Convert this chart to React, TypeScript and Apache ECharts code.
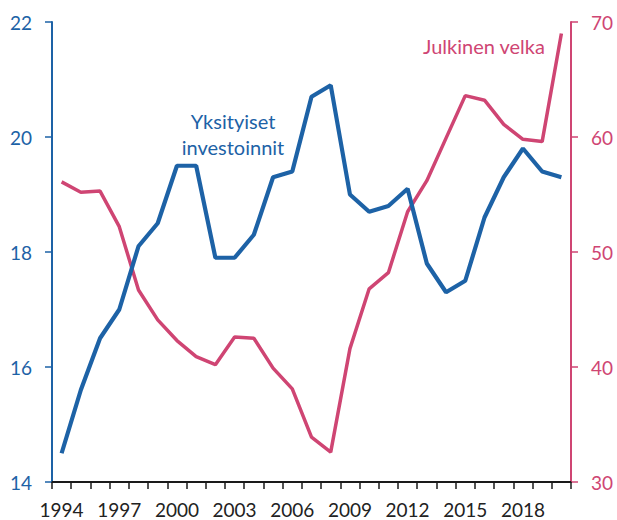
import React, { useEffect, useRef } from "react";
import * as echarts from "echarts";

const years: string[] = [
  "1994", "1995", "1996", "1997", "1998", "1999", "2000", "2001", "2002",
  "2003", "2004", "2005", "2006", "2007", "2008", "2009", "2010", "2011",
  "2012", "2013", "2014", "2015", "2016", "2017", "2018", "2019", "2020",
];

// Yksityiset investoinnit (left axis)
const privateInvestment: number[] = [
  14.5, 15.6, 16.5, 17.0, 18.1, 18.5, 19.5, 19.5, 17.9,
  17.9, 18.3, 19.3, 19.4, 20.7, 20.9, 19.0, 18.7, 18.8,
  19.1, 17.8, 17.3, 17.5, 18.6, 19.3, 19.8, 19.4, 19.3,
];

// Julkinen velka (right axis)
const publicDebt: number[] = [
  56.1, 55.2, 55.3, 52.2, 46.7, 44.1, 42.3, 40.9, 40.2,
  42.6, 42.5, 39.9, 38.1, 33.9, 32.6, 41.6, 46.8, 48.2,
  53.5, 56.2, 59.9, 63.6, 63.2, 61.1, 59.8, 59.6, 69.0,
];

const BLUE = "#1d62a6";
const PINK = "#cf4573";
const FONT = "Lato, 'Open Sans', sans-serif";

export default function App() {
  const ref = useRef<HTMLDivElement>(null);

  useEffect(() => {
    document.body.style.margin = "0";
    if (!ref.current) return;
    const chart = echarts.init(ref.current, undefined, { renderer: "svg" });
    chart.setOption({
      animation: false,
      textStyle: { fontFamily: FONT },
      grid: { left: 52, right: 46, top: 22, bottom: 38, containLabel: false },
      xAxis: {
        type: "category",
        data: years,
        boundaryGap: true,
        axisLine: { lineStyle: { color: "#1a1a1a", width: 2 } },
        axisTick: {
          show: true,
          interval: 0,
          length: 7,
          lineStyle: { color: "#1a1a1a", width: 1.5 },
        },
        axisLabel: {
          interval: 2,
          color: "#222222",
          fontSize: 19,
          lineHeight: 19,
          fontFamily: FONT,
          margin: 18,
        },
        splitLine: { show: false },
      },
      yAxis: [
        {
          type: "value",
          min: 14,
          max: 22,
          interval: 2,
          position: "left",
          axisLine: { show: true, lineStyle: { color: BLUE, width: 2 } },
          axisTick: { show: true, length: 7, lineStyle: { color: BLUE, width: 1.5 } },
          axisLabel: { color: BLUE, fontSize: 19, fontFamily: FONT, margin: 20 },
          splitLine: { show: false },
        },
        {
          type: "value",
          min: 30,
          max: 70,
          interval: 10,
          position: "right",
          axisLine: { show: true, lineStyle: { color: PINK, width: 2 } },
          axisTick: { show: true, length: 7, lineStyle: { color: PINK, width: 1.5 } },
          axisLabel: { color: PINK, fontSize: 19, fontFamily: FONT, margin: 20 },
          splitLine: { show: false },
        },
      ],
      series: [
        {
          name: "Julkinen velka",
          type: "line",
          yAxisIndex: 1,
          data: publicDebt,
          showSymbol: false,
          lineStyle: { color: PINK, width: 3.5 },
          itemStyle: { color: PINK },
          z: 2,
        },
        {
          name: "Yksityiset investoinnit",
          type: "line",
          yAxisIndex: 0,
          data: privateInvestment,
          showSymbol: false,
          lineStyle: { color: BLUE, width: 4.2 },
          itemStyle: { color: BLUE },
          z: 3,
        },
      ],
      graphic: [
        {
          type: "text",
          x: 233,
          y: 108,
          style: {
            text: "Yksityiset\ninvestoinnit",
            fill: BLUE,
            fontSize: 20,
            fontFamily: FONT,
            align: "center",
            verticalAlign: "top",
            lineHeight: 26,
          },
        },
        {
          type: "text",
          x: 423,
          y: 34,
          style: {
            text: "Julkinen velka",
            fill: PINK,
            fontSize: 20,
            fontFamily: FONT,
            align: "left",
            verticalAlign: "top",
            lineHeight: 24,
          },
        },
      ],
    });
    return () => chart.dispose();
  }, []);

  return <div ref={ref} style={{ width: 617, height: 520 }} />;
}
